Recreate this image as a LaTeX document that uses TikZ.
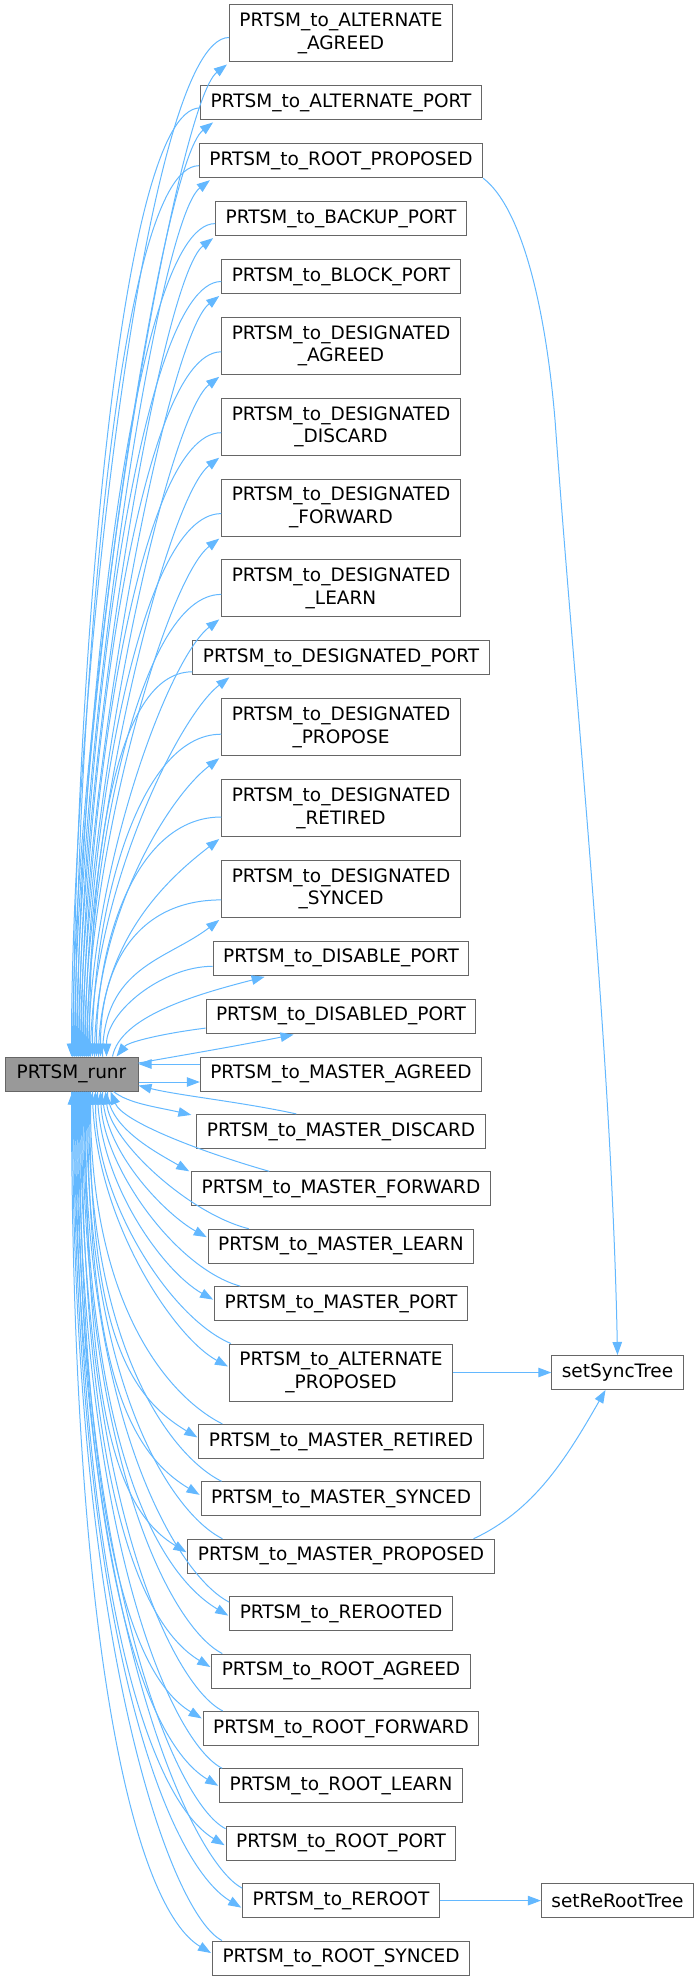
\documentclass[tikz,border=0pt]{standalone}
\usepackage{fontspec}
\setmainfont{DejaVu Sans}
\usetikzlibrary{arrows.meta,calc}
\definecolor{edgec}{HTML}{63B8FF}
\definecolor{bordc}{HTML}{666666}
\definecolor{rootc}{HTML}{999999}
% upper node: #1 node, #2 back-edge x offset on runr top, #3 call x offset, #4 vertical control length,
% #5 arrow end x offset from south west, #6 back-edge start y offset from west
\newcommand\upedges[6]{%
  \draw[callarr] ($(#1.west)+(0,#6)$) .. controls ($(#1.west)+(-85,#6)$) and ($(R.north west)+(#2,-#4)$) .. ($(R.north west)+(#2,0)$);
  \draw[callarr] ($(R.north west)+(#3,0)$) .. controls ($(R.north west)+(#3,-#4)$) and ($(#1.south west)+(#5-52,42)$) .. ($(#1.south west)+(#5,2)$);
}
% lower node: #1 node, #2 call x offset, #3 back x offset, #4 call ctrl, #5 back ctrl, #6 end y offset,
% #7,#8 back-edge start offset from north west
\newcommand\downedges[8]{%
  \draw[callarr] ($(R.south west)+(#2,0)$) .. controls ($(R.south west)+(#2,#4)$) and ($(#1.west)+(-76,#6-45)$) .. ($(#1.west)+(-1,#6)$);
  \draw[callarr] ($(#1.north west)+(#7,#8)$) .. controls ($(#1.north west)+(#7-50,#8-25)$) and ($(R.south west)+(#3,#5)$) .. ($(R.south west)+(#3,0)$);
}
\begin{document}
\begin{tikzpicture}[x=1pt,y=-1pt,
  box/.style={draw=bordc, line width=1pt, fill=white, inner xsep=10pt, inner ysep=0pt,
    minimum height=34pt, align=center, font=\fontsize{18.5pt}{22.7pt}\selectfont},
  dbox/.style={box, minimum height=57pt},
  rootbox/.style={box, fill=rootc, minimum width=133pt},
  callarr/.style={draw=edgec, line width=1pt, -{Triangle[length=13pt,width=9.5pt]}}]
\useasboundingbox (0,0) rectangle (699,1980);

\node[rootbox] (R) at (71.5,1074) {PRTSM\_runr};

\node[dbox] (n1) at (341,33.5) {PRTSM\_to\_ALTERNATE\\\_AGREED};
\node[box] (n2) at (341,102.9) {PRTSM\_to\_ALTERNATE\_PORT};
\node[box] (n3) at (341,160.7) {PRTSM\_to\_ROOT\_PROPOSED};
\node[box] (n4) at (341,218.6) {PRTSM\_to\_BACKUP\_PORT};
\node[box] (n5) at (341,276.5) {PRTSM\_to\_BLOCK\_PORT};
\node[dbox] (n6) at (341,345.8) {PRTSM\_to\_DESIGNATED\\\_AGREED};
\node[dbox] (n7) at (341,426.7) {PRTSM\_to\_DESIGNATED\\\_DISCARD};
\node[dbox] (n8) at (341,507.6) {PRTSM\_to\_DESIGNATED\\\_FORWARD};
\node[dbox] (n9) at (341,588.4) {PRTSM\_to\_DESIGNATED\\\_LEARN};
\node[box] (n10) at (341,657.8) {PRTSM\_to\_DESIGNATED\_PORT};
\node[dbox] (n11) at (341,727.2) {PRTSM\_to\_DESIGNATED\\\_PROPOSE};
\node[dbox] (n12) at (341,808) {PRTSM\_to\_DESIGNATED\\\_RETIRED};
\node[dbox] (n13) at (341,888.9) {PRTSM\_to\_DESIGNATED\\\_SYNCED};
\node[box] (n14) at (341,958.3) {PRTSM\_to\_DISABLE\_PORT};
\node[box] (n15) at (341,1016.1) {PRTSM\_to\_DISABLED\_PORT};
\node[box] (n16) at (341,1074) {PRTSM\_to\_MASTER\_AGREED};
\node[box] (n17) at (341,1131.4) {PRTSM\_to\_MASTER\_DISCARD};
\node[box] (n18) at (341,1188.8) {PRTSM\_to\_MASTER\_FORWARD};
\node[box] (n19) at (341,1246.2) {PRTSM\_to\_MASTER\_LEARN};
\node[box] (n20) at (341,1303.6) {PRTSM\_to\_MASTER\_PORT};
\node[dbox] (n21) at (341,1372.5) {PRTSM\_to\_ALTERNATE\\\_PROPOSED};
\node[box] (n22) at (341,1441.4) {PRTSM\_to\_MASTER\_RETIRED};
\node[box] (n23) at (341,1498.8) {PRTSM\_to\_MASTER\_SYNCED};
\node[box] (n24) at (341,1556.2) {PRTSM\_to\_MASTER\_PROPOSED};
\node[box] (n25) at (341,1613.6) {PRTSM\_to\_REROOTED};
\node[box] (n26) at (341,1671) {PRTSM\_to\_ROOT\_AGREED};
\node[box] (n27) at (341,1728.4) {PRTSM\_to\_ROOT\_FORWARD};
\node[box] (n28) at (341,1785.8) {PRTSM\_to\_ROOT\_LEARN};
\node[box] (n29) at (341,1843.2) {PRTSM\_to\_ROOT\_PORT};
\node[box] (n30) at (341,1900.6) {PRTSM\_to\_REROOT};
\node[box] (n31) at (341,1958) {PRTSM\_to\_ROOT\_SYNCED};

\node[box] (sst) at (617.5,1372.5) {setSyncTree};
\node[box] (srt) at (617.5,1900.6) {setReRootTree};

% upper nodes
\upedges{n1}{67}{68}{347}{-2}{4}
\upedges{n2}{69}{70}{326}{13}{5}
\upedges{n3}{71}{72}{309}{11}{5}
\upedges{n4}{73}{74}{291}{-2}{5}
\upedges{n5}{75}{76}{274}{-2}{5}
\upedges{n6}{77}{78}{253}{-2}{6}
\upedges{n7}{79}{80}{229}{-2}{6}
\upedges{n8}{81}{82}{205}{-2}{6}
\upedges{n9}{83}{84}{181}{-2}{6}
\upedges{n10}{85}{86}{160}{37}{14}
\upedges{n11}{88}{90}{139}{-2}{7}
\upedges{n12}{92}{94}{115}{-2}{9}
\upedges{n13}{96}{98}{90}{-2}{11}
% n14
\draw[callarr] ($(n14.west)+(0,8)$) .. controls ($(n14.west)+(-50,8)$) and ($(R.north west)+(102,-45)$) .. ($(R.north west)+(102,0)$);
\draw[callarr] ($(R.north west)+(108,0)$) .. controls ($(R.north west)+(116,-40)$) and ($(n14.south west)+(-18,19)$) .. ($(n14.south west)+(52,1)$);
% n15
\draw[callarr] ($(n15.west)+(0,12)$) .. controls ($(n15.west)+(-40,17)$) and ($(R.north west)+(124,-15)$) .. ($(R.north west)+(112,0)$);
\draw[callarr] ($(R.east)+(0,-11)$) .. controls ($(R.east)+(45,-19)$) and ($(n15.south west)+(28,13)$) .. ($(n15.south west)+(88,1)$);
% n16
\draw[callarr] ($(n16.west)+(0,-10)$) -- ($(R.east)+(0,-10)$);
\draw[callarr] ($(R.east)+(0,8)$) -- ($(n16.west)+(0,8)$);
% n17
\draw[callarr] ($(R.south west)+(109,0)$) .. controls ($(R.south west)+(124,12)$) and ($(n17.north west)+(-40,-7)$) .. ($(n17.north west)+(-5,1)$);
\draw[callarr] ($(n17.north west)+(100,0)$) .. controls ($(n17.north west)+(45,-12)$) and ($(R.south east)+(40,4)$) .. ($(R.south east)+(0,-6)$);
% n18
\draw[callarr] ($(R.south west)+(103,0)$) .. controls ($(R.south west)+(103,35)$) and ($(n18.north west)+(-37,-20)$) .. ($(n18.north west)+(-2,0)$);
\draw[callarr] ($(n18.north west)+(78,0)$) .. controls ($(n18.north west)+(8,-20)$) and ($(R.south west)+(118,30)$) .. ($(R.south west)+(106,0)$);
% n19
\draw[callarr] ($(R.south west)+(98,0)$) .. controls ($(R.south west)+(98,60)$) and ($(n19.west)+(-41,-31)$) .. ($(n19.west)+(-1,-9)$);
\draw[callarr] ($(n19.north west)+(41,0)$) .. controls ($(n19.north west)+(-19,-15)$) and ($(R.south west)+(106,50)$) .. ($(R.south west)+(101,0)$);
% n20
\draw[callarr] ($(R.south west)+(93,0)$) .. controls ($(R.south west)+(93,90)$) and ($(n20.west)+(-51,-32)$) .. ($(n20.west)+(-1,-4)$);
\draw[callarr] ($(n20.north west)+(26,0)$) .. controls ($(n20.north west)+(-39,-18)$) and ($(R.south west)+(99,75)$) .. ($(R.south west)+(96,0)$);
% n21
\draw[callarr] ($(R.south west)+(88,0)$) .. controls ($(R.south west)+(88,125)$) and ($(n21.west)+(-56,-36)$) .. ($(n21.west)+(-1,-6)$);
\draw[callarr] ($(n21.north west)+(2,0)$) .. controls ($(n21.north west)+(-58,-25)$) and ($(R.south west)+(91,110)$) .. ($(R.south west)+(91,0)$);
% lower far nodes
\downedges{n22}{85}{86}{228}{220}{-4}{24}{0}
\downedges{n23}{83}{84}{267}{258}{-4}{21}{0}
\downedges{n24}{81}{82}{304}{296}{-4}{35}{0}
\downedges{n25}{79}{80}{343}{334}{2}{0}{6}
\downedges{n26}{77}{78}{380}{372}{-4}{11}{0}
\downedges{n27}{75}{76}{414}{409}{-10}{20}{0}
\downedges{n28}{73}{74}{459}{447}{0}{3}{0}
\downedges{n29}{71}{72}{498}{485}{2}{0}{3}
\downedges{n30}{69}{70}{539}{527}{7}{0}{5}
\downedges{n31}{67}{68}{569}{561}{-5}{10}{0}

% calls to helper functions
\draw[callarr] (n3.south east) .. controls ($(n3.south east)+(37,28)$) and ($(n3.south east)+(62,123)$) .. ($(n3.south east)+(72,243)$)
   .. controls ($(n3.south east)+(92,523)$) and ($(sst.north)+(-6,-305)$) .. (sst.north);
\draw[callarr] (n21.east) -- (sst.west);
\draw[callarr] ($(n24.north east)+(-21,0)$) .. controls ($(n24.north east)+(39,-28)$) and ($(sst.south)+(-52,70)$) .. ($(sst.south)+(-12,0)$);
\draw[callarr] (n30.east) -- (srt.west);
\end{tikzpicture}
\end{document}
